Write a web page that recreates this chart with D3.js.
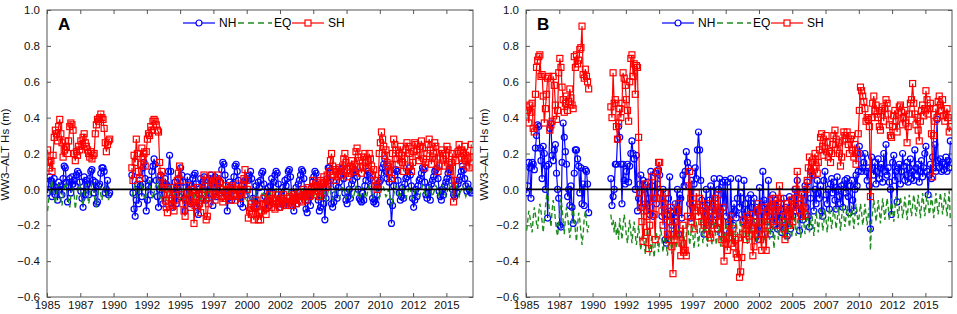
<!DOCTYPE html>
<html>
<head>
<meta charset="utf-8">
<script src="https://cdn.jsdelivr.net/npm/d3@7"></script>
<style>
  body { margin: 0; background: #fff; }
  svg { display: block; font-family: "Liberation Sans", Arial, sans-serif; }
</style>
</head>
<body>
<div id="chart"></div>
<script>
// monthly anomalies, first block Jan 1985 - Sep 1989, second block May 1991 - Nov 2016
var earlyStart = 1985, lateStart = 1991 + 4 / 12;
var xTicks = [1985, 1987.5, 1990, 1992.5, 1995, 1997.5, 2000, 2002.5, 2005, 2007.5, 2010, 2012.5, 2015];
var yTicks = [-0.6, -0.4, -0.2, 0, 0.2, 0.4, 0.6, 0.8, 1.0];
var seriesNames = ["NH", "EQ", "SH"];

// ---- panel A ----
var nhA_early = [
  -.02,.03,.07,.05,-.04,.02,.06,-.03,.01,-.06,.04,.00,
  .02,-.03,.06,.13,.12,.04,-.07,.02,.06,-.02,.07,.03,
  .05,.02,.08,.10,.09,.04,-.01,-.05,-.10,.07,-.03,.05,
  .03,-.03,.06,.10,.11,.05,-.02,.04,-.08,-.07,.02,.03,
  .09,.12,.12,.10,-.02,.00,.05,-.03,-.02];
var nhA_late = [
  .08,-.02,-.11,-.15,-.06,.03,-.08,.05,
  .02,-.04,.12,.15,.06,-.12,-.06,.02,.05,-.03,.10,.13,
  .17,.14,.05,-.04,-.10,.00,.08,.02,-.08,-.03,.06,.03,
  .02,.10,.19,.10,-.06,-.10,-.03,.04,-.08,.01,.06,-.04,
  .12,.08,.04,-.05,-.12,-.02,.07,-.06,.03,-.08,.02,.06,
  .08,.09,.03,-.10,-.14,-.03,.06,-.05,.04,.07,.02,-.06,
  .02,-.05,.06,.08,.05,-.09,.01,.07,-.04,.03,.06,-.02,
  .04,.11,.15,.14,.08,-.03,-.12,-.05,.04,.01,-.06,.03,
  .07,.13,.14,.10,.05,-.04,-.08,.02,-.10,.00,.05,-.03,
  .06,.05,.08,.10,.06,-.05,-.10,-.07,.02,-.08,.04,.01,
  .05,.09,.10,.03,-.04,-.11,-.06,.01,-.09,.02,.06,-.02,
  .04,.08,.10,.09,.03,-.07,-.10,-.03,.01,-.09,.05,.02,
  .06,.10,.11,.07,-.02,-.09,-.12,-.05,.01,-.08,.03,.05,
  .08,.11,.10,.06,-.04,-.11,-.13,-.06,-.02,-.09,.01,.04,
  .07,.10,.09,.02,-.06,-.12,-.10,-.04,.00,-.08,-.17,-.05,
  .06,.12,.12,.05,-.08,-.10,-.07,-.03,.02,-.05,.01,.04,
  .08,.11,.12,.06,-.02,-.06,-.08,-.04,.00,-.05,.03,.05,
  .09,.11,.10,.07,.00,-.05,-.06,-.07,-.02,-.06,.02,.05,
  .08,.10,.09,.06,.02,-.05,-.07,-.06,-.08,-.03,.01,.04,
  .05,.09,.12,.14,.17,.10,.06,.13,.04,-.07,-.19,-.09,
  .02,.08,.11,.10,.05,-.02,-.06,-.04,.01,-.05,.03,.06,
  .07,.10,.12,.08,.02,-.05,-.10,-.06,.00,-.04,.02,.05,
  .06,.09,.12,.11,.04,-.03,-.05,-.02,.01,-.06,.03,.05,
  .07,.10,.11,.12,.06,-.01,-.04,-.06,.00,-.03,.02,.04,
  .06,.09,.11,.12,.05,.00,-.03,-.04,.02,-.02,.03,.05,
  .07,.10,.13,.11,.06,.02,-.01,.03,.00,-.01,-.02];

var eqA_early = [
  -.12,-.06,-.02,.02,.05,-.01,-.04,-.08,-.03,.01,.03,-.02,
  -.05,-.09,-.04,.00,.04,.02,-.03,-.07,-.10,-.04,.00,.02,
  -.03,-.11,-.06,-.01,.02,.03,-.02,-.06,-.09,-.04,.01,.03,
  -.02,-.08,-.05,.00,.03,.02,-.03,-.07,-.10,-.05,.00,.02,
  -.03,-.06,-.02,.01,.03,-.01,-.04,-.06,-.03];
var eqA_late = [
  -.04,-.02,.01,.03,-.02,-.05,-.03,.00,
  .02,.04,-.01,-.04,-.06,-.02,.01,.03,.05,.00,-.03,-.05,
  -.02,.01,.03,.06,.01,-.04,-.06,-.03,.00,.02,-.02,-.06,
  -.03,.00,.02,.00,-.04,-.07,-.05,-.02,.01,-.01,-.05,-.07,
  -.04,-.01,.01,-.02,-.05,-.08,-.06,-.03,.00,-.02,-.05,-.07,
  -.05,-.02,.00,-.01,-.04,-.07,-.05,-.02,.01,-.01,-.04,-.06,
  -.04,-.01,.02,.01,-.03,-.06,-.04,-.01,.02,.00,-.03,-.05,
  -.03,.00,.02,.00,-.04,-.06,-.05,-.02,.01,-.01,-.04,-.06,
  -.05,-.02,.01,-.01,-.05,-.07,-.06,-.03,.00,-.02,-.05,-.07,
  -.06,-.03,-.01,-.03,-.06,-.08,-.07,-.04,-.01,-.03,-.06,-.08,
  -.06,-.03,-.01,-.02,-.05,-.08,-.06,-.04,-.01,-.02,-.05,-.07,
  -.05,-.02,.00,-.02,-.05,-.07,-.06,-.03,.00,-.02,-.05,-.07,
  -.05,-.03,.00,-.01,-.05,-.07,-.05,-.03,.00,-.02,-.05,-.06,
  -.05,-.02,.01,-.01,-.04,-.07,-.05,-.02,.00,-.01,-.04,-.06,
  -.04,-.02,.01,.00,-.04,-.06,-.05,-.02,.01,-.01,-.04,-.06,
  -.04,-.01,.02,.00,-.03,-.06,-.04,-.02,.01,.00,-.03,-.05,
  -.03,-.01,.02,.01,-.03,-.05,-.04,-.01,.02,.00,-.03,-.05,
  -.04,-.01,.02,.00,-.03,-.05,-.04,-.02,.01,-.01,-.04,-.05,
  -.03,.00,.02,.01,-.02,-.05,-.03,-.01,.02,.00,-.03,-.05,
  -.03,.00,.02,.01,-.02,-.04,-.03,.00,-.02,-.05,-.10,-.06,
  -.03,.00,.02,.01,-.02,-.05,-.03,-.01,.02,.00,-.03,-.05,
  -.03,-.01,.02,.00,-.03,-.05,-.04,-.01,.01,.00,-.03,-.04,
  -.03,.00,.02,.01,-.02,-.04,-.03,-.01,.02,.00,-.02,-.04,
  -.02,.00,.02,.01,-.02,-.04,-.03,.00,.02,.01,-.02,-.04,
  -.02,.01,.03,.01,-.02,-.04,-.03,.00,.02,.01,-.02,-.04,
  -.02,.00,.02,.01,-.02,-.04,-.02,.00,.02,.00,-.02];

var shA_early = [
  .22,.15,.12,.16,.10,.19,.29,.33,.31,.27,.35,.39,
  .31,.26,.18,.22,.27,.24,.20,.27,.35,.37,.36,.33,
  .20,.16,.21,.19,.24,.22,.27,.25,.29,.31,.26,.24,
  .22,.20,.18,.21,.17,.19,.20,.31,.36,.39,.38,.40,
  .42,.40,.39,.34,.26,.21,.25,.27,.28];
var shA_late = [
  .12,.05,.19,.15,.28,.20,.10,.06,
  .14,.23,.18,.20,.13,.21,.28,.31,.30,.35,.33,.38,
  .39,.38,.36,.33,.32,.15,.07,.10,.01,.03,-.06,-.10,
  -.13,-.08,-.03,.01,-.05,-.09,-.12,-.06,.00,.05,.09,.13,
  .05,-.03,-.08,-.12,-.15,-.06,-.02,.02,-.05,-.10,-.07,.00,
  -.19,-.09,-.04,.01,-.02,-.08,-.13,-.06,.00,.08,.05,-.17,
  -.15,-.08,-.03,.04,.08,.03,-.02,-.06,-.03,.05,.08,.04,
  .00,-.04,-.07,-.05,-.02,.02,.00,-.04,-.06,-.03,.02,.01,
  -.03,-.06,-.04,.00,.03,-.02,-.05,-.03,.02,.06,.11,.05,
  .00,-.16,-.12,-.10,-.08,-.14,-.17,-.10,-.06,-.09,-.17,-.13,
  -.17,-.12,-.08,-.05,-.09,-.14,-.10,-.06,-.03,-.07,-.10,-.05,
  -.08,-.11,-.06,-.03,-.07,-.10,-.05,-.08,-.06,-.03,-.09,-.07,
  -.05,-.08,-.04,-.07,-.09,-.06,-.03,-.05,-.08,-.04,-.02,-.06,
  -.04,-.07,-.03,.00,-.03,-.06,-.02,.01,-.04,-.03,.00,.05,
  .01,-.03,.02,.04,-.01,-.04,.05,.03,-.02,.07,.04,.01,
  .08,.03,.10,.16,.20,.13,.08,.05,.11,.10,.07,.12,
  .10,.08,.13,.17,.20,.15,.11,.07,.09,.13,.16,.12,
  .10,.14,.21,.23,.18,.16,.12,.09,.13,.18,.20,.15,
  .12,.16,.20,.17,.13,.08,.11,.05,.02,.00,.03,.20,
  .26,.32,.28,.24,.19,.22,.15,.13,.10,.14,.06,.20,
  .28,.25,.22,.17,.14,.20,.24,.19,.15,.10,.17,.22,
  .26,.24,.20,.13,.10,.15,.21,.26,.25,.22,.19,.16,
  .24,.27,.23,.17,.12,.15,.20,.25,.28,.22,.14,.18,
  .20,.26,.24,.17,.10,.13,.18,.22,.20,.17,.13,.19,
  .24,.22,.14,.10,.15,.20,-.07,.05,.16,.20,.21,.25,
  .22,.18,.14,.20,.24,.19,.13,.17,.12,.18,.25];

// ---- panel B ----
var nhB_early = [
  -.02,.02,.15,.12,-.05,.15,.14,.11,.23,.30,.36,.35,
  .23,.16,.06,.24,.20,.00,.13,-.16,.14,.34,.37,.19,
  .16,.22,.25,.09,.00,-.05,-.20,-.21,.15,.37,.29,.21,
  .14,-.04,.00,-.09,.02,-.10,-.19,.09,.22,.22,.17,.13,
  -.02,.12,-.08,.03,-.09,.11,.10,.03,-.13];
var nhB_late = [
  .06,-.09,-.04,.00,.14,.14,.28,.35,
  .29,.14,-.08,.14,.05,.03,.10,.14,.04,.13,.20,.27,
  .20,.17,.00,.19,-.12,-.05,.03,.08,-.10,.05,.00,-.08,
  -.12,.04,-.05,-.14,.10,.02,-.15,-.05,.09,-.08,.03,.11,
  .08,-.02,-.15,.00,-.10,-.28,-.30,-.14,-.05,.07,-.12,-.20,
  -.13,-.25,-.08,-.15,.00,-.25,-.03,-.05,-.16,.08,.02,.10,
  .21,.15,.12,-.08,-.16,.05,-.10,.03,.12,.06,.22,.32,
  .22,.05,-.06,-.12,-.25,-.10,.00,-.15,-.20,-.06,.02,-.10,
  -.18,.06,-.05,-.14,-.22,.00,.06,-.12,-.25,.04,-.10,.05,
  -.15,.04,-.18,-.24,.06,-.14,-.20,-.08,-.12,-.16,-.05,.06,
  -.10,-.02,-.14,-.18,.05,-.08,-.20,-.12,-.05,-.16,-.03,-.10,
  -.20,-.05,-.15,-.10,-.22,-.28,.01,-.12,-.25,.10,-.06,-.15,
  -.08,-.18,.05,-.12,-.25,-.10,-.03,-.20,-.15,-.06,-.22,-.12,
  -.18,-.08,-.24,-.14,-.05,-.20,-.10,-.26,-.15,-.04,-.22,-.10,
  -.15,-.05,.00,-.12,.05,-.08,-.23,-.14,-.02,-.17,-.06,.02,
  -.10,.04,-.15,-.21,-.05,.10,.08,-.12,.00,-.08,.05,-.02,
  -.05,.02,-.12,-.15,.05,.10,-.03,-.08,.00,-.11,.03,.06,
  -.02,.04,-.06,-.11,.07,.00,-.04,-.08,.02,-.10,.03,.05,
  -.02,.06,-.04,-.13,.02,.05,-.06,-.12,.00,.08,.02,.10,
  .24,.20,.10,.12,.15,.20,.10,.05,.12,.02,-.22,.18,
  .12,.08,.15,.03,.10,.17,.06,.12,.14,.04,.20,.10,
  .25,.08,.12,.04,.00,-.14,.15,.19,.05,.10,-.07,.12,
  .14,.03,.10,.20,.13,.05,.08,.15,.04,.12,.17,.06,
  .10,.05,.22,.12,.08,.14,.04,.10,.16,.07,.12,.20,
  .24,.10,-.03,.08,.14,.06,.18,.12,.25,.10,.39,.16,
  .12,.17,.10,.15,.11,.14,.18,.10,.16,.12,.27];

var eqB_early = [
  -.23,-.18,-.12,-.15,-.20,-.24,-.16,-.10,-.14,-.19,-.22,-.13,
  -.08,-.12,-.18,-.24,-.17,-.10,-.04,.02,-.08,-.15,-.21,-.12,
  -.06,-.10,-.17,-.23,-.26,-.19,-.12,-.05,-.10,-.18,-.25,-.16,
  -.10,-.15,-.21,-.27,-.22,-.14,-.09,-.16,-.23,-.29,-.20,-.13,
  -.17,-.24,-.31,-.25,-.16,-.12,-.18,-.24,-.20];
var eqB_late = [
  -.14,-.20,-.17,-.24,-.18,-.26,-.21,-.28,
  -.16,-.22,-.28,-.20,-.14,-.19,-.26,-.30,-.22,-.17,-.24,-.30,
  -.23,-.18,-.25,-.31,-.26,-.20,-.28,-.34,-.27,-.22,-.30,-.36,
  -.28,-.22,-.30,-.37,-.31,-.25,-.32,-.38,-.30,-.24,-.29,-.35,
  -.27,-.21,-.28,-.35,-.30,-.24,-.31,-.37,-.29,-.23,-.30,-.36,
  -.28,-.22,-.27,-.33,-.29,-.22,-.28,-.35,-.27,-.20,-.26,-.33,
  -.25,-.18,-.24,-.31,-.26,-.19,-.26,-.33,-.25,-.18,-.24,-.32,
  -.24,-.17,-.23,-.30,-.25,-.18,-.25,-.32,-.24,-.17,-.24,-.31,
  -.24,-.18,-.24,-.31,-.26,-.19,-.25,-.32,-.25,-.18,-.24,-.30,
  -.23,-.17,-.23,-.30,-.25,-.18,-.25,-.31,-.24,-.18,-.24,-.31,
  -.24,-.17,-.23,-.29,-.24,-.18,-.24,-.31,-.24,-.17,-.23,-.30,
  -.23,-.16,-.22,-.29,-.24,-.17,-.23,-.30,-.23,-.16,-.22,-.29,
  -.22,-.16,-.22,-.28,-.23,-.16,-.23,-.33,-.24,-.16,-.22,-.28,
  -.22,-.15,-.21,-.27,-.22,-.15,-.22,-.29,-.22,-.15,-.21,-.27,
  -.20,-.14,-.20,-.26,-.21,-.14,-.20,-.27,-.21,-.14,-.19,-.25,
  -.19,-.12,-.18,-.24,-.20,-.13,-.19,-.26,-.19,-.12,-.18,-.24,
  -.17,-.11,-.16,-.23,-.18,-.11,-.17,-.24,-.17,-.10,-.16,-.22,
  -.16,-.10,-.15,-.22,-.17,-.10,-.16,-.23,-.16,-.09,-.15,-.21,
  -.15,-.09,-.14,-.21,-.16,-.09,-.15,-.22,-.15,-.08,-.14,-.20,
  -.14,-.08,-.13,-.20,-.15,-.08,-.14,-.20,-.14,-.10,-.34,-.18,
  -.12,-.06,-.11,-.18,-.13,-.06,-.12,-.19,-.12,-.05,-.11,-.17,
  -.11,-.05,-.10,-.17,-.12,-.05,-.11,-.18,-.11,-.04,-.10,-.16,
  -.10,-.04,-.09,-.16,-.11,-.04,-.10,-.17,-.10,-.03,-.09,-.15,
  -.09,-.03,-.08,-.15,-.10,-.03,-.09,-.16,-.09,-.02,-.08,-.15,
  -.09,-.02,-.08,-.14,-.10,-.03,-.09,-.16,-.09,-.02,-.08,-.14,
  -.08,-.02,-.07,-.14,-.09,-.02,-.08,-.15,-.08,-.01,-.17];

var shB_early = [
  .46,.44,.37,.47,.43,.48,.34,.32,.53,.68,.72,.74,
  .75,.63,.64,.52,.37,.45,.53,.62,.63,.33,.36,.38,
  .63,.58,.47,.39,.44,.65,.73,.68,.57,.50,.43,.48,
  .52,.44,.49,.56,.51,.47,.45,.74,.68,.75,.70,.72,
  .78,.79,.91,.64,.62,.67,.63,.60,.56];
var shB_late = [
  .46,.40,.65,.48,.50,.35,.28,.37,
  .45,.40,.48,.65,.62,.58,.50,.44,.38,.60,.73,.75,
  .63,.70,.53,.69,.68,.29,-.02,-.10,-.18,-.29,-.12,.03,
  -.15,-.24,-.33,-.20,-.10,.07,-.05,-.14,-.28,-.05,.10,.15,
  .15,-.05,-.12,-.20,-.08,-.02,-.15,-.25,-.28,-.18,-.10,-.32,
  -.47,-.28,-.18,-.26,-.12,-.08,-.25,-.37,-.30,-.20,-.35,-.34,
  -.37,-.15,.02,.10,-.05,-.18,-.08,-.22,-.12,-.02,-.10,-.15,
  -.05,-.12,-.18,-.10,-.20,-.14,-.22,-.08,-.15,-.25,-.27,-.12,
  -.20,-.10,-.05,-.15,-.22,-.03,-.12,-.18,-.28,-.10,-.40,-.30,
  -.26,-.34,-.20,-.27,-.15,-.30,-.22,-.32,-.28,-.36,-.38,-.27,
  -.49,-.46,-.38,-.25,-.17,-.22,-.28,-.15,-.20,-.26,-.14,-.22,
  -.37,-.32,-.18,-.25,-.12,-.08,-.22,-.28,-.34,-.18,-.10,-.25,
  -.34,-.20,-.12,-.15,-.06,-.10,-.18,-.05,-.12,-.20,-.10,-.08,
  .02,-.05,-.12,-.18,-.22,-.28,-.15,-.08,-.13,-.20,-.12,-.06,
  -.18,-.10,-.05,.00,.10,-.05,-.12,-.08,-.15,-.03,-.10,-.14,
  .00,.05,.12,.18,.10,.15,.08,.17,.20,.13,.09,.15,
  .22,.29,.31,.24,.19,.23,.30,.26,.18,.21,.15,.20,
  .25,.30,.33,.28,.22,.26,.20,.13,.18,.27,.32,.30,
  .28,.32,.25,.20,.28,.30,.22,.18,.25,.14,.20,.31,
  .44,.57,.55,.52,.49,.45,.38,.40,.39,.35,-.04,.40,
  .48,.52,.44,.47,.42,.40,.35,.33,.44,.46,.38,.45,
  .50,.48,.42,.36,.30,.29,.35,.41,.44,.38,.32,.42,
  .46,.47,.43,.36,.40,.44,.37,.26,.35,.42,.48,.50,
  .59,.48,.42,.36,.40,.33,.27,.38,.44,.47,.41,.45,
  .55,.50,.42,.45,.48,.31,.07,.30,.38,.45,.40,.49,
  .52,.47,.44,.50,.41,.38,.42,.45,.40,.32,.35];

// set the dimensions of the two panels
var width = 957, height = 314;
var panels = [
  {label: "A", left: 47, nh: [nhA_early, nhA_late], eq: [eqA_early, eqA_late], sh: [shA_early, shA_late]},
  {label: "B", left: 526, nh: [nhB_early, nhB_late], eq: [eqB_early, eqB_late], sh: [shB_early, shB_late]}
];
var plotW = 426, plotTop = 10, plotBottom = 297;
var colors = {NH: "#0000ff", EQ: "#1e8c1e", SH: "#ff0000"};
var rMark = 3, sqMark = 6;

function toPoints(pair) {
  var pts = pair[0].map(function(v, i) { return {x: earlyStart + (i + 0.5) / 12, y: v}; });
  pts.push({x: null, y: null});
  pair[1].forEach(function(v, j) { pts.push({x: lateStart + (j + 0.5) / 12, y: v}); });
  return pts;
}

var svg = d3.select("#chart").append("svg")
  .attr("width", width)
  .attr("height", height);

panels.forEach(function(p, pi) {
  var x = d3.scaleLinear().domain([1985, 2017]).range([p.left, p.left + plotW]);
  var y = d3.scaleLinear().domain([-0.6, 1.0]).range([plotBottom, plotTop]);
  var g = svg.append("g");

  g.append("clipPath").attr("id", "clip" + pi)
    .append("rect").attr("x", p.left).attr("y", plotTop).attr("width", plotW).attr("height", plotBottom - plotTop);

  // axes, ticks pointing inward on all four sides
  g.append("g")
    .attr("transform", "translate(0," + plotBottom + ")")
    .call(d3.axisBottom(x).tickValues(xTicks).tickSize(-4).tickPadding(4)
      .tickFormat(function(d) { return Math.floor(d); }))
    .call(function(a) { a.select(".domain").remove(); });
  g.append("g")
    .attr("transform", "translate(0," + plotTop + ")")
    .call(d3.axisTop(x).tickValues(xTicks).tickSize(-4).tickFormat(""))
    .call(function(a) { a.select(".domain").remove(); });
  g.append("g")
    .attr("transform", "translate(" + p.left + ",0)")
    .call(d3.axisLeft(y).tickValues(yTicks).tickSize(-4).tickPadding(7).tickFormat(d3.format(".1f")))
    .call(function(a) { a.select(".domain").remove(); });
  g.append("g")
    .attr("transform", "translate(" + (p.left + plotW) + ",0)")
    .call(d3.axisRight(y).tickValues(yTicks).tickSize(-4).tickFormat(""))
    .call(function(a) { a.select(".domain").remove(); });

  g.selectAll(".tick line").attr("stroke", "#555");
  g.selectAll(".tick text").attr("font-size", 11.5).attr("fill", "#111")
    .attr("font-family", "Liberation Sans, Arial, sans-serif");

  g.append("rect")
    .attr("x", p.left).attr("y", plotTop)
    .attr("width", plotW).attr("height", plotBottom - plotTop)
    .attr("fill", "none").attr("stroke", "#555").attr("stroke-width", 1);

  // y axis label
  g.append("text")
    .attr("transform", "translate(" + (p.left - 38) + "," + ((plotTop + plotBottom) / 2 + 1) + ") rotate(-90)")
    .attr("text-anchor", "middle")
    .attr("font-size", 11.5)
    .attr("fill", "#111")
    .text("WW3\u2013ALT Hs (m)");

  var plot = g.append("g").attr("clip-path", "url(#clip" + pi + ")");
  var line = d3.line()
    .defined(function(d) { return d.y !== null; })
    .x(function(d) { return x(d.x); })
    .y(function(d) { return y(d.y); });

  // NH
  var nh = toPoints(p.nh);
  plot.append("path").datum(nh)
    .attr("d", line).attr("fill", "none").attr("stroke", colors.NH).attr("stroke-width", 1.2);
  plot.selectAll(".nh").data(nh.filter(function(d) { return d.y !== null; }))
    .enter().append("circle")
      .attr("cx", function(d) { return x(d.x); })
      .attr("cy", function(d) { return y(d.y); })
      .attr("r", rMark)
      .attr("fill", "none").attr("stroke", colors.NH).attr("stroke-width", 1.2);

  // EQ
  var eq = toPoints(p.eq);
  plot.append("path").datum(eq)
    .attr("d", line).attr("fill", "none").attr("stroke", colors.EQ)
    .attr("stroke-width", 1.4).attr("stroke-dasharray", "5,3");

  // SH
  var sh = toPoints(p.sh);
  plot.append("path").datum(sh)
    .attr("d", line).attr("fill", "none").attr("stroke", colors.SH).attr("stroke-width", 1.2);
  plot.selectAll(".sh").data(sh.filter(function(d) { return d.y !== null; }))
    .enter().append("rect")
      .attr("x", function(d) { return x(d.x) - sqMark / 2; })
      .attr("y", function(d) { return y(d.y) - sqMark / 2; })
      .attr("width", sqMark).attr("height", sqMark)
      .attr("fill", "none").attr("stroke", colors.SH).attr("stroke-width", 1.2);

  // zero line
  plot.append("line")
    .attr("x1", p.left).attr("x2", p.left + plotW)
    .attr("y1", y(0)).attr("y2", y(0))
    .attr("stroke", "#000").attr("stroke-width", 1.6);

  // panel letter
  g.append("text")
    .attr("x", p.left + 11).attr("y", 30)
    .attr("font-size", 17).attr("font-weight", "bold")
    .text(p.label);

  // legend
  var lg = g.append("g").attr("transform", "translate(" + (p.left + 136) + ",23)");
  lg.append("line").attr("x1", 0).attr("x2", 32).attr("stroke", colors.NH).attr("stroke-width", 1.2);
  lg.append("circle").attr("cx", 16).attr("r", rMark).attr("fill", "#fff").attr("stroke", colors.NH).attr("stroke-width", 1.2);
  lg.append("text").attr("x", 36).attr("dy", "0.36em").attr("font-size", 12).text(seriesNames[0]);
  lg.append("line").attr("x1", 55).attr("x2", 89).attr("stroke", colors.EQ)
    .attr("stroke-width", 1.4).attr("stroke-dasharray", "6,4");
  lg.append("text").attr("x", 91).attr("dy", "0.36em").attr("font-size", 12).text(seriesNames[1]);
  lg.append("line").attr("x1", 109).attr("x2", 141).attr("stroke", colors.SH).attr("stroke-width", 1.2);
  lg.append("rect").attr("x", 125 - sqMark / 2).attr("y", -sqMark / 2).attr("width", sqMark).attr("height", sqMark)
    .attr("fill", "#fff").attr("stroke", colors.SH).attr("stroke-width", 1.2);
  lg.append("text").attr("x", 145).attr("dy", "0.36em").attr("font-size", 12).text(seriesNames[2]);
});
</script>
</body>
</html>
